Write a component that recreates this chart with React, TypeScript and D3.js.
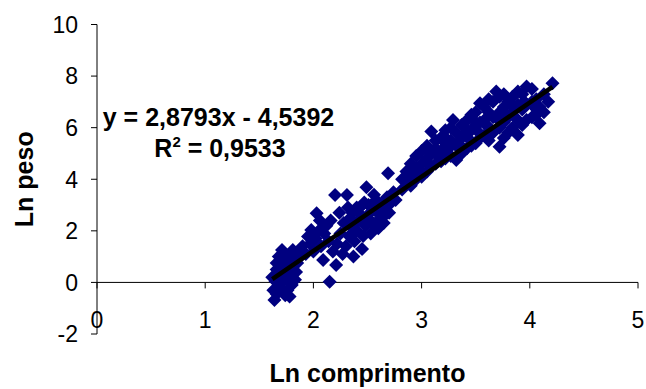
import * as d3 from 'd3';

// Ln comprimento / Ln peso pairs, grouped by size class
const smallFish: [number, number][] = [
    [1.64, -0.68], [1.66, -0.45], [1.68, -0.2], [1.65, 0.05], [1.67, 0.3], [1.7, 0.55],
    [1.66, 0.75], [1.72, 0.95], [1.71, 1.26], [1.81, 1.26], [1.74, -0.5], [1.78, -0.55],
    [1.76, -0.3], [1.8, -0.1], [1.73, 0.1], [1.77, 0.35], [1.79, 0.6], [1.82, 0.85],
    [1.75, 0.8], [1.69, -0.05], [1.63, -0.3], [1.62, 0.2], [1.7, 0.4], [1.84, 0.4],
    [1.83, 0.1], [1.85, 0.75], [1.68, 1.0], [1.74, 1.05], [1.78, 0.95], [1.8, 0.2],
    [1.72, -0.3], [1.66, 0.5],
];

const midFishA: [number, number][] = [
    [2.03, 2.68], [1.98, 2.03], [1.95, 1.78], [2.09, 0.87], [2.15, 0.03], [2.21, 0.68],
    [1.9, 1.4], [1.93, 1.1], [1.97, 1.5], [2.0, 1.2], [2.02, 1.7], [2.05, 2.0],
    [2.07, 1.4], [2.1, 1.9], [2.12, 2.2], [2.14, 1.6], [2.16, 2.4], [2.18, 1.2],
    [2.06, 2.4], [1.88, 1.0], [1.86, 1.2],
];

const midFishB: [number, number][] = [
    [2.2, 3.39], [2.31, 3.39], [2.49, 3.69], [2.69, 4.23], [2.22, 1.5], [2.25, 1.9],
    [2.28, 2.3], [2.3, 1.4], [2.33, 1.8], [2.35, 2.2], [2.36, 2.7], [2.38, 1.6],
    [2.4, 2.0], [2.42, 2.4], [2.43, 2.9], [2.45, 1.3], [2.46, 1.8], [2.48, 2.2],
    [2.5, 2.6], [2.51, 3.0], [2.53, 1.9], [2.55, 2.3], [2.57, 2.8], [2.58, 3.2],
    [2.6, 2.1], [2.62, 2.5], [2.63, 3.0], [2.65, 2.3], [2.67, 2.8], [2.68, 3.3],
    [2.7, 2.7], [2.72, 3.1], [2.74, 3.5], [2.76, 3.2], [2.56, 3.4], [2.4, 2.9],
    [2.27, 1.1], [2.37, 1.0], [2.24, 2.7], [2.32, 2.9], [2.44, 2.6], [2.52, 2.4],
    [2.6, 2.7], [2.66, 2.6], [2.34, 2.5], [2.47, 3.1],
];

const largeFish: [number, number][] = [
    [2.82, 3.6], [2.82, 4.0], [2.86, 3.9], [2.86, 4.3], [2.9, 3.75], [2.9, 4.2],
    [2.9, 4.6], [2.95, 4.0], [2.95, 4.4], [2.95, 4.9], [3.0, 4.1], [3.0, 4.6],
    [3.0, 5.1], [3.05, 4.3], [3.05, 4.8], [3.05, 5.3], [3.09, 4.5], [3.09, 5.0],
    [3.09, 5.85], [3.13, 4.6], [3.13, 5.2], [3.13, 5.5], [3.18, 4.7], [3.18, 5.1],
    [3.18, 5.6], [3.22, 4.8], [3.22, 5.4], [3.22, 5.9], [3.27, 4.9], [3.27, 5.5],
    [3.27, 6.0], [3.29, 6.3], [3.32, 4.75], [3.32, 5.3], [3.32, 5.8], [3.37, 5.0],
    [3.37, 5.6], [3.37, 6.1], [3.42, 5.2], [3.42, 5.8], [3.42, 6.3], [3.46, 5.3],
    [3.46, 5.9], [3.46, 6.5], [3.5, 5.4], [3.5, 6.1], [3.5, 6.6], [3.54, 5.6],
    [3.54, 6.2], [3.54, 6.95], [3.58, 5.7], [3.58, 6.3], [3.58, 6.8], [3.62, 5.5],
    [3.62, 6.0], [3.62, 6.6], [3.62, 7.1], [3.66, 5.8], [3.66, 6.4], [3.66, 7.0],
    [3.69, 7.4], [3.72, 5.26], [3.72, 6.0], [3.72, 6.6], [3.72, 7.2], [3.76, 5.6],
    [3.76, 6.2], [3.76, 6.8], [3.76, 7.3], [3.8, 5.8], [3.8, 6.4], [3.8, 7.0],
    [3.84, 6.0], [3.84, 6.6], [3.84, 7.2], [3.89, 5.72], [3.89, 6.3], [3.89, 6.9],
    [3.89, 7.4], [3.93, 6.1], [3.93, 6.7], [3.93, 7.3], [3.97, 6.3], [3.97, 6.9],
    [3.97, 7.6], [4.02, 6.4], [4.02, 7.0], [4.02, 7.5], [4.06, 6.5], [4.06, 7.1],
    [4.09, 6.17], [4.09, 6.8], [4.13, 6.6], [4.13, 7.3], [4.17, 7.0], [4.21, 7.72],
    [2.98, 4.35], [3.07, 4.55], [3.15, 4.9], [3.24, 5.15], [3.35, 5.35], [3.44, 5.55],
    [3.52, 5.85], [3.6, 6.1], [3.7, 6.35], [3.78, 6.55], [3.86, 6.75], [3.95, 7.0],
    [4.04, 6.8], [3.48, 6.3], [3.4, 6.0], [3.2, 5.7],
];

const xTicks = [0, 1, 2, 3, 4, 5];
const yTicks = [-2, 0, 2, 4, 6, 8, 10];

// trendline from the Excel label
const slope = 2.8793;
const intercept = -4.5392;

const W = 646;
const H = 389;
const font = '"Liberation Sans", Arial, sans-serif';

export default function App() {
    const x = d3.scaleLinear().domain([0, 5]).range([97, 638]);
    const y = d3.scaleLinear().domain([-2, 10]).range([334, 24.5]);

    const all = [...smallFish, ...midFishA, ...midFishB, ...largeFish];
    const [xMin, xMax] = d3.extent(all, d => d[0]) as [number, number];
    const trend = d3.line<number>()
        .x(d => x(d))
        .y(d => y(slope * d + intercept));

    const diamond = d3.symbol(d3.symbolSquare, 98)();

    return (
        <svg width={W} height={H} style={{ position: 'absolute', left: 0, top: 0, background: '#fff' }}
            fontFamily={font}>
            {/* y axis */}
            <line x1={x(0)} x2={x(0)} y1={y(-2)} y2={y(10)} stroke="#000" strokeWidth={1} />
            {yTicks.map(t => (
                <g key={t}>
                    <line x1={x(0) - 6} x2={x(0)} y1={y(t)} y2={y(t)} stroke="#000" />
                    <text x={x(0) - 19} y={y(t)} dy="0.36em" textAnchor="end" fontSize={23}>{t}</text>
                </g>
            ))}
            {/* x axis crossing at y = 0 */}
            <line x1={x(0)} x2={x(5)} y1={y(0)} y2={y(0)} stroke="#000" strokeWidth={1} />
            {xTicks.map(t => (
                <g key={t}>
                    <line x1={x(t)} x2={x(t)} y1={y(0)} y2={y(0) + 6} stroke="#000" />
                    <text x={x(t)} y={320} dy="0.36em" textAnchor="middle" fontSize={23}>{t}</text>
                </g>
            ))}

            {/* points */}
            {all.map((d, i) => (
                <path key={i} d={diamond!} fill="#000080"
                    transform={`translate(${x(d[0])},${y(d[1])}) rotate(45)`} />
            ))}

            {/* regression line */}
            <path d={trend([xMin, xMax])!} fill="none" stroke="#000" strokeWidth={4.5} />

            {/* equation */}
            <text x={218.5} y={126} textAnchor="middle" fontSize={25} fontWeight="bold">
                y = 2,8793x - 4,5392
            </text>
            <text x={220} y={157} textAnchor="middle" fontSize={25} fontWeight="bold">
                R<tspan dy={-10} fontSize={15}>2</tspan><tspan dy={10}> = 0,9533</tspan>
            </text>

            {/* axis titles */}
            <text transform={`translate(33,${(y(-2) + y(10)) / 2}) rotate(-90)`} textAnchor="middle"
                fontSize={25} fontWeight="bold">Ln peso</text>
            <text x={(x(0) + x(5)) / 2} y={382} textAnchor="middle" fontSize={25} fontWeight="bold">
                Ln comprimento
            </text>
        </svg>
    );
}
